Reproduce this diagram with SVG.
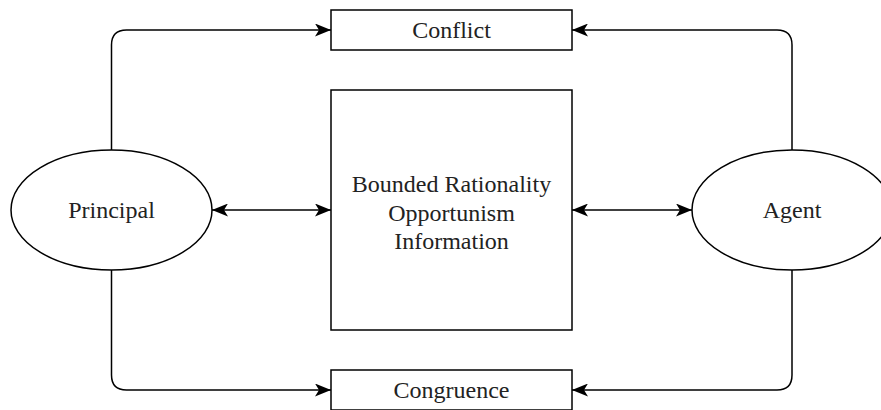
<svg xmlns="http://www.w3.org/2000/svg" width="881" height="410" viewBox="0 0 881 410">
<style>
.shape{fill:#fff;stroke:#000;stroke-width:1.5}
.edge{fill:none;stroke:#000;stroke-width:1.5}
.lbl{font-family:"Liberation Serif","Times New Roman",serif;font-size:24px;fill:#222;text-anchor:middle}
</style>
<defs>
<marker id="arr" viewBox="0 0 16 13" refX="16" refY="6.5" markerWidth="16" markerHeight="13" markerUnits="userSpaceOnUse" orient="auto-start-reverse">
<path d="M0,0 L16,6.5 L0,13 L4,6.5 Z" fill="#000"/>
</marker>
</defs>
<g id="connectors">
<path class="edge" d="M111.5,150 V45 Q111.5,30 126.5,30 H331" marker-end="url(#arr)"/>
<path class="edge" d="M792,150 V45 Q792,30 777,30 H572" marker-end="url(#arr)"/>
<path class="edge" d="M111.5,270 V375 Q111.5,390 126.5,390 H331" marker-end="url(#arr)"/>
<path class="edge" d="M792,270 V375 Q792,390 777,390 H572" marker-end="url(#arr)"/>
<path class="edge" d="M212,210 H331" marker-start="url(#arr)" marker-end="url(#arr)"/>
<path class="edge" d="M572,210 H692" marker-start="url(#arr)" marker-end="url(#arr)"/>
</g>
<g id="conflict">
<rect class="shape" x="331" y="10" width="241" height="40"/>
<text class="lbl" x="451.5" y="38">Conflict</text>
</g>
<g id="factors">
<rect class="shape" x="331" y="90" width="241" height="240"/>
<text class="lbl" x="451.5" y="192">Bounded Rationality</text>
<text class="lbl" x="451.5" y="220.5">Opportunism</text>
<text class="lbl" x="451.5" y="249">Information</text>
</g>
<g id="congruence">
<rect class="shape" x="331" y="370" width="241" height="40"/>
<text class="lbl" x="451.5" y="398">Congruence</text>
</g>
<g id="principal">
<ellipse class="shape" cx="111.5" cy="210" rx="100.5" ry="60"/>
<text class="lbl" x="111.5" y="218">Principal</text>
</g>
<g id="agent">
<ellipse class="shape" cx="792" cy="210" rx="100" ry="60"/>
<text class="lbl" x="792" y="218">Agent</text>
</g>
</svg>
